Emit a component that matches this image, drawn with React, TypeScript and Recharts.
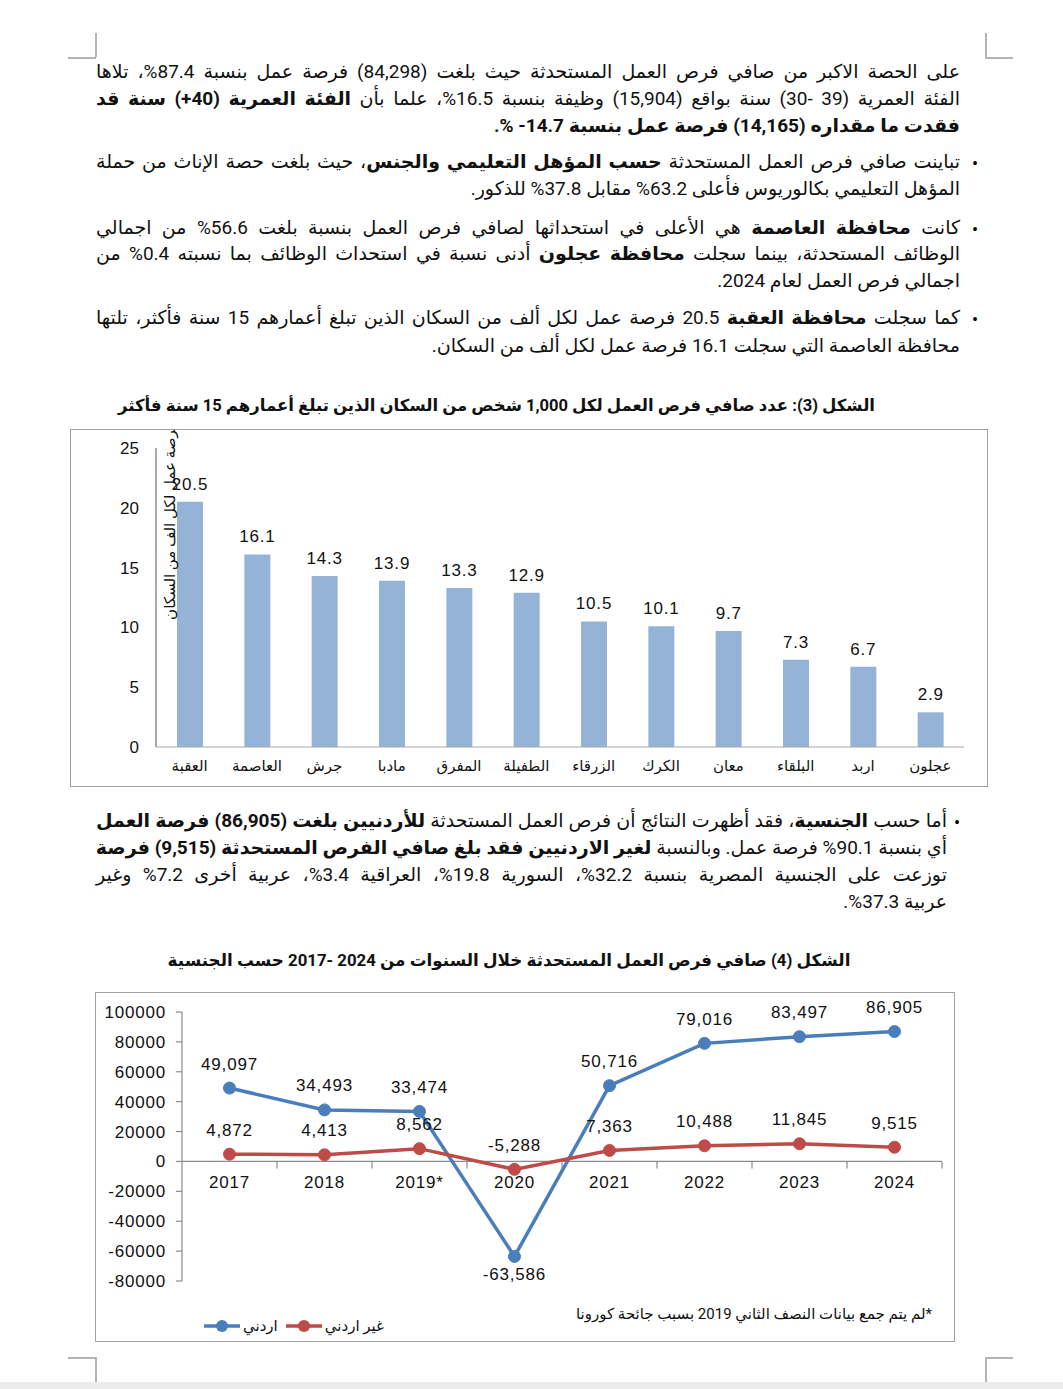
import React from "react";
import {
  BarChart,
  Bar,
  LineChart,
  Line,
  XAxis,
  YAxis,
  LabelList,
  ReferenceLine,
} from "recharts";

// figure 3: net jobs per 1,000 residents aged 15+
const governorates = [
  "العقبة",
  "العاصمة",
  "جرش",
  "مادبا",
  "المفرق",
  "الطفيلة",
  "الزرقاء",
  "الكرك",
  "معان",
  "البلقاء",
  "اربد",
  "عجلون",
];
const jobsPerThousand = [20.5, 16.1, 14.3, 13.9, 13.3, 12.9, 10.5, 10.1, 9.7, 7.3, 6.7, 2.9];
const perThousandTicks = [0, 5, 10, 15, 20, 25];

// figure 4: net created jobs by nationality
const years = ["2017", "2018", "2019*", "2020", "2021", "2022", "2023", "2024"];
const jordanian = [49097, 34493, 33474, -63586, 50716, 79016, 83497, 86905];
const nonJordanian = [4872, 4413, 8562, -5288, 7363, 10488, 11845, 9515];
const netJobTicks = [-80000, -60000, -40000, -20000, 0, 20000, 40000, 60000, 80000, 100000];

const fig3Data = governorates.map((name, i) => ({ name, value: jobsPerThousand[i] }));
const fig4Data = years.map((year, i) => ({
  year,
  jordanian: jordanian[i],
  nonJordanian: nonJordanian[i],
}));

const ARABIC = "Roboto, 'DejaVu Sans', sans-serif";
const NUM = "'Liberation Sans', Arial, sans-serif";
const BLUE = "#4A7EBB";
const RED = "#BE4B48";
const AXIS = "#8c8c8c";

const fmt = (v: number) => v.toLocaleString("en-US");

// text line helper
function TextLine({
  top,
  left,
  right,
  justify,
  bold,
  children,
}: {
  top: number;
  left: number;
  right: number;
  justify?: boolean;
  bold?: boolean;
  children: React.ReactNode;
}) {
  return (
    <div
      style={{
        position: "absolute",
        top: top - 14,
        left,
        width: right - left,
        height: 28,
        lineHeight: "28px",
        direction: "rtl",
        textAlign: justify ? "justify" : "right",
        textAlignLast: justify ? "justify" : "right",
        whiteSpace: "nowrap",
        fontSize: 19,
        fontWeight: bold ? 700 : 400,
        color: "#111",
      }}
    >
      {children}
    </div>
  );
}

function Bullet({ x, y }: { x: number; y: number }) {
  return (
    <div style={{ position: "absolute", left: x - 6, top: y - 14, lineHeight: "28px", fontSize: 18 }}>
      •
    </div>
  );
}

function Mark({ x, y, w, h }: { x: number; y: number; w: number; h: number }) {
  return <div style={{ position: "absolute", left: x, top: y, width: w, height: h, background: "#b4b4b4" }} />;
}

// fig 4 geometry (relative to chart svg)
const F4_W = 858;
const F4_H = 348;
const F4_TOP = 19;
const F4_LEFT = 86;
const F4_RIGHT = 12;
const F4_BOTTOM = 60;
const yMin = netJobTicks[0];
const yMax = netJobTicks[netJobTicks.length - 1];
const plotH = F4_H - F4_TOP - F4_BOTTOM;
const plotW = F4_W - F4_LEFT - F4_RIGHT;
const zeroY = F4_TOP + (yMax / (yMax - yMin)) * plotH;
const band = plotW / years.length;

function YearTick(props: any) {
  const { x, payload } = props;
  return (
    <g>
      <line x1={x + band / 2} x2={x + band / 2} y1={zeroY} y2={zeroY + 7} stroke={AXIS} strokeWidth={1.2} />
      <text
        x={x}
        y={zeroY + 21}
        textAnchor="middle"
        dominantBaseline="central"
        fontFamily={NUM}
        fontSize={17}
        letterSpacing={0.8}
        fill="#111"
      >
        {payload.value}
      </text>
    </g>
  );
}

function pointLabel(belowIfNegative: boolean) {
  return (props: any) => {
    const { x, y, value } = props;
    const below = belowIfNegative && value < 0;
    return (
      <text
        x={x}
        y={below ? y + 18 : y - 24}
        textAnchor="middle"
        dominantBaseline="central"
        fontFamily={NUM}
        fontSize={17}
        letterSpacing={0.8}
        fill="#111"
      >
        {fmt(value)}
      </text>
    );
  };
}

function LegendItem({ color, label }: { color: string; label: string }) {
  return (
    <div style={{ display: "flex", alignItems: "center", gap: 3 }}>
      <svg width={36} height={14}>
        <line x1={0} x2={36} y1={7} y2={7} stroke={color} strokeWidth={3.5} />
        <circle cx={18} cy={7} r={6} fill={color} />
      </svg>
      <span>{label}</span>
    </div>
  );
}

export default function App() {
  return (
    <div
      style={{
        position: "absolute",
        left: 0,
        top: 0,
        width: 1063,
        height: 1389,
        background: "#fff",
        fontFamily: ARABIC,
        overflow: "hidden",
      }}
    >
      {/* crop marks */}
      <Mark x={95} y={33} w={1.5} h={24} />
      <Mark x={68} y={57} w={28} h={1.5} />
      <Mark x={985} y={33} w={1.5} h={24} />
      <Mark x={985} y={57} w={28} h={1.5} />
      <Mark x={95} y={1357} w={1.5} h={25} />
      <Mark x={68} y={1357} w={28} h={1.5} />
      <Mark x={985} y={1357} w={1.5} h={25} />
      <Mark x={985} y={1357} w={28} h={1.5} />
      <div style={{ position: "absolute", left: 0, top: 1382, width: 1063, height: 7, background: "#ececec" }} />

      {/* paragraph 1 */}
      <TextLine top={72} left={96} right={960} justify>
        على الحصة الاكبر من صافي فرص العمل المستحدثة حيث بلغت (84,298) فرصة عمل بنسبة 87.4%، تلاها
      </TextLine>
      <TextLine top={99} left={96} right={960} justify>
        الفئة العمرية (39 -30) سنة بواقع (15,904) وظيفة بنسبة 16.5%، علما بأن <b>الفئة العمرية (40+) سنة قد</b>
      </TextLine>
      <TextLine top={126} left={96} right={960} bold>
        فقدت ما مقداره (14,165) فرصة عمل بنسبة 14.7- %.
      </TextLine>

      {/* paragraph 2 */}
      <Bullet x={978} y={164} />
      <TextLine top={162} left={96} right={960} justify>
        تباينت صافي فرص العمل المستحدثة <b>حسب المؤهل التعليمي والجنس</b>، حيث بلغت حصة الإناث من حملة
      </TextLine>
      <TextLine top={189} left={96} right={960}>
        المؤهل التعليمي بكالوريوس فأعلى 63.2% مقابل 37.8% للذكور.
      </TextLine>

      {/* paragraph 3 */}
      <Bullet x={978} y={230} />
      <TextLine top={228} left={96} right={960} justify>
        كانت <b>محافظة العاصمة</b> هي الأعلى في استحداثها لصافي فرص العمل بنسبة بلغت 56.6% من اجمالي
      </TextLine>
      <TextLine top={254} left={96} right={960} justify>
        الوظائف المستحدثة، بينما سجلت <b>محافظة عجلون</b> أدنى نسبة في استحداث الوظائف بما نسبته 0.4% من
      </TextLine>
      <TextLine top={281} left={96} right={960}>
        اجمالي فرص العمل لعام 2024.
      </TextLine>

      {/* paragraph 4 */}
      <Bullet x={978} y={320} />
      <TextLine top={318} left={96} right={960} justify>
        كما سجلت <b>محافظة العقبة</b> 20.5 فرصة عمل لكل ألف من السكان الذين تبلغ أعمارهم 15 سنة فأكثر، تلتها
      </TextLine>
      <TextLine top={346} left={96} right={960}>
        محافظة العاصمة التي سجلت 16.1 فرصة عمل لكل ألف من السكان.
      </TextLine>

      {/* figure 3 title */}
      <div
        style={{
          position: "absolute",
          top: 392,
          left: 96,
          width: 801,
          textAlign: "center",
          direction: "rtl",
          fontSize: 16.5,
          fontWeight: 700,
          lineHeight: "28px",
          color: "#111",
          whiteSpace: "nowrap",
        }}
      >
        الشكل (3): عدد صافي فرص العمل لكل 1,000 شخص من السكان الذين تبلغ أعمارهم 15 سنة فأكثر
      </div>

      {/* figure 3 */}
      <div
        style={{
          position: "absolute",
          left: 70,
          top: 429,
          width: 916,
          height: 356,
          border: "1.5px solid #a0a0a0",
        }}
      >
        <BarChart
          width={916}
          height={356}
          data={fig3Data}
          margin={{ top: 18, right: 23, bottom: 4, left: 40 }}
        >
          <XAxis
            dataKey="name"
            height={35}
            axisLine={{ stroke: "#a8a8a8", strokeWidth: 1.2 }}
            tickLine={false}
            tickMargin={7}
            interval={0}
            tick={{ fontSize: 15, fill: "#111", fontFamily: ARABIC }}
          />
          <YAxis
            width={45}
            domain={[0, 25]}
            ticks={perThousandTicks}
            axisLine={{ stroke: AXIS, strokeWidth: 1.5 }}
            tickLine={false}
            tickMargin={11}
            tick={{ fontSize: 17, fill: "#111", fontFamily: NUM }}
            label={{
              content: () => (
                <text
                  x={99}
                  y={91}
                  transform="rotate(-90, 99, 91)"
                  textAnchor="middle"
                  dominantBaseline="central"
                  fontSize={15}
                  fontFamily={ARABIC}
                  fill="#111"
                  direction="rtl"
                >
                  فرصة عمل لكل الف من السكان
                </text>
              ),
            }}
          />
          <Bar dataKey="value" fill="#95B3D7" barSize={26} isAnimationActive={false}>
            <LabelList
              dataKey="value"
              position="top"
              offset={12}
              fontSize={17}
              fill="#111"
              fontFamily={NUM}
              letterSpacing={0.8}
            />
          </Bar>
        </BarChart>
      </div>

      {/* paragraph 5 */}
      <Bullet x={960} y={823} />
      <TextLine top={821} left={96} right={947} justify>
        أما حسب <b>الجنسية</b>، فقد أظهرت النتائج أن فرص العمل المستحدثة <b>للأردنيين بلغت (86,905) فرصة العمل</b>
      </TextLine>
      <TextLine top={848} left={96} right={947} justify>
        أي بنسبة 90.1% فرصة عمل. وبالنسبة <b>لغير الاردنيين فقد بلغ صافي الفرص المستحدثة (9,515) فرصة</b>
      </TextLine>
      <TextLine top={875} left={96} right={947} justify>
        توزعت على الجنسية المصرية بنسبة 32.2%، السورية 19.8%، العراقية 3.4%، عربية أخرى 7.2% وغير
      </TextLine>
      <TextLine top={902} left={96} right={947}>
        عربية 37.3%.
      </TextLine>

      {/* figure 4 title */}
      <div
        style={{
          position: "absolute",
          top: 946,
          left: 109,
          width: 800,
          textAlign: "center",
          direction: "rtl",
          fontSize: 16.8,
          fontWeight: 700,
          lineHeight: "28px",
          color: "#111",
          whiteSpace: "nowrap",
        }}
      >
        الشكل (4) صافي فرص العمل المستحدثة خلال السنوات من 2024 -2017 حسب الجنسية
      </div>

      {/* figure 4 */}
      <div
        style={{
          position: "absolute",
          left: 95,
          top: 992,
          width: F4_W,
          height: F4_H,
          border: "1.5px solid #a0a0a0",
        }}
      >
        <LineChart
          width={F4_W}
          height={F4_H}
          data={fig4Data}
          margin={{ top: F4_TOP, right: F4_RIGHT, bottom: F4_BOTTOM - 30, left: F4_LEFT - 60 }}
        >
          <XAxis
            dataKey="year"
            height={30}
            axisLine={false}
            tickLine={false}
            interval={0}
            padding={{ left: band / 2, right: band / 2 }}
            tick={<YearTick />}
          />
          <YAxis
            width={60}
            domain={[yMin, yMax]}
            ticks={netJobTicks}
            interval={0}
            axisLine={{ stroke: AXIS, strokeWidth: 1.2 }}
            tickLine={{ stroke: AXIS, strokeWidth: 1.2 }}
            tickSize={6}
            tickMargin={10}
            tick={{ fontSize: 17, fill: "#111", fontFamily: NUM, letterSpacing: 0.8 }}
          />
          <ReferenceLine y={0} stroke={AXIS} strokeWidth={1.2} />
          <Line
            dataKey="jordanian"
            stroke={BLUE}
            strokeWidth={3.5}
            dot={{ r: 6, fill: BLUE, stroke: BLUE, strokeWidth: 1 }}
            isAnimationActive={false}
          >
            <LabelList dataKey="jordanian" content={pointLabel(true)} />
          </Line>
          <Line
            dataKey="nonJordanian"
            stroke={RED}
            strokeWidth={3.5}
            dot={{ r: 6, fill: RED, stroke: RED, strokeWidth: 1 }}
            isAnimationActive={false}
          >
            <LabelList dataKey="nonJordanian" content={pointLabel(false)} />
          </Line>
        </LineChart>

        {/* footnote */}
        <div
          style={{
            position: "absolute",
            right: 955 - 932 - 1,
            top: 1313 - 992 - 12,
            direction: "rtl",
            fontSize: 15,
            lineHeight: "24px",
            color: "#111",
            whiteSpace: "nowrap",
          }}
        >
          *لم يتم جمع بيانات النصف الثاني 2019 بسبب جائحة كورونا
        </div>

        {/* legend */}
        <div
          style={{
            position: "absolute",
            left: 203 - 95,
            top: 1325 - 992 - 12,
            display: "flex",
            gap: 8,
            fontSize: 15,
            lineHeight: "24px",
            color: "#111",
            direction: "ltr",
          }}
        >
          <LegendItem color={BLUE} label="اردني" />
          <LegendItem color={RED} label="غير اردني" />
        </div>
      </div>
    </div>
  );
}
